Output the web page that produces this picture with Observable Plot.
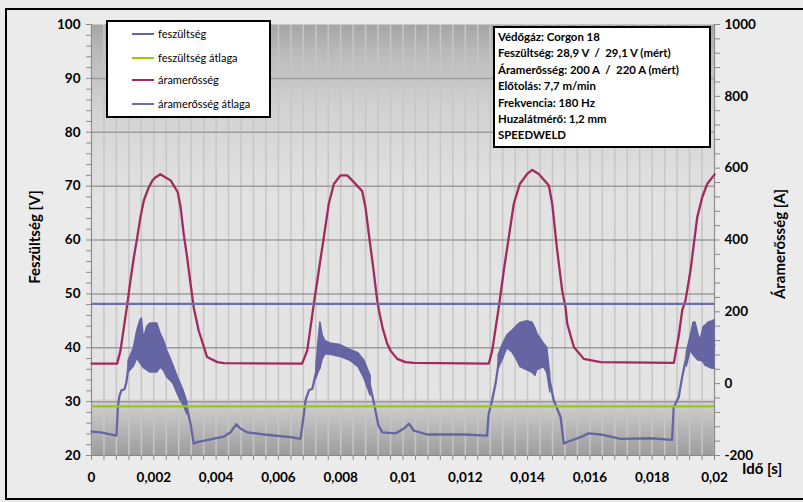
<!DOCTYPE html>
<html><head><meta charset="utf-8">
<script src="https://cdn.jsdelivr.net/npm/d3@7"></script>
<script src="https://cdn.jsdelivr.net/npm/@observablehq/plot@0.6"></script>
<style>
body{margin:0;background:#fff;}
#wrap{position:relative;width:803px;height:502px;background:#ebebeb;overflow:hidden;font-family:Lato,"Open Sans",sans-serif;}
#border{position:absolute;left:5px;top:8px;width:810px;height:492px;border:2px solid #000;box-sizing:border-box;pointer-events:none;}
#legend{position:absolute;left:106px;top:20px;width:165px;height:98px;background:#fff;border:2px solid #000;box-sizing:border-box;font-size:11px;color:#000;}
#legend .row{position:absolute;left:24px;height:14px;line-height:14px;white-space:nowrap;}
#legend .sw{display:inline-block;width:22px;height:0;border-top:2.5px solid;vertical-align:middle;margin-right:4px;position:relative;top:-1px;}
#info{position:absolute;left:493px;top:26px;width:218px;height:122px;background:#fff;border:2px solid #000;box-sizing:border-box;font-size:11.4px;font-weight:bold;color:#000;padding:1px 0 0 3px;line-height:16.4px;white-space:nowrap;}
</style></head>
<body>
<div id="wrap"></div>
<script>
// ---- data ----
const voltTime = [0,0.00029,0.00061,0.00080,0.00085,0.00090,0.00096,0.00106,0.00112,0.00119,0.00135,0.00157,0.00189,0.00222,0.00247,0.00270,0.00289,0.00307,0.00318,0.00328,0.00339,0.00382,0.00425,0.00446,0.00465,0.00478,0.00500,0.00553,0.00639,0.00671,0.00677,0.00687,0.00698,0.00709,0.00722,0.00732,0.00751,0.00783,0.00815,0.00848,0.00870,0.00889,0.00905,0.00921,0.00934,0.00976,0.01003,0.01019,0.01035,0.01078,0.01195,0.01270,0.01275,0.01286,0.01297,0.01308,0.01318,0.01334,0.01361,0.01393,0.01425,0.01451,0.01473,0.01484,0.01506,0.01516,0.01527,0.01570,0.01596,0.01634,0.01698,0.01795,0.01864,0.01869,0.01885,0.01896,0.01907,0.01923,0.01939,0.01955,0.01971,0.02];
const voltage = [24.45,24.3,23.9,23.7,29.3,31.1,32.1,32.3,33.6,36.7,38.6,41.0,39.9,39.1,36.7,34.3,31.7,28.7,25.9,22.2,22.5,23.0,23.5,24.3,25.8,25.0,24.3,23.9,23.4,23.1,25.6,30.2,32.1,32.4,35.8,40.4,40.4,39.9,39.1,38.4,36.7,34.3,30.2,25.6,24.3,24.1,25.0,25.9,24.6,23.9,23.9,23.7,27.7,30.2,33.3,37.6,39.5,41.4,40.8,40.4,39.9,38.6,33.3,30.2,27.1,22.2,22.5,23.4,24.1,23.9,23.1,23.2,22.9,29.0,30.8,34.5,37.6,41.4,41.4,39.5,40.4,40.4];

// noisy voltage envelope (arc bursts)
const noiseTime = [0.00119,0.00136,0.00147,0.00157,0.00162,0.00168,0.00179,0.00189,0.00211,0.00222,0.00232,0.00243,0.00254,0.00264,0.00279,0.00295,0.00308,
  0.00722,0.00729,0.00735,0.00742,0.00751,0.00767,0.00799,0.00831,0.00857,0.00876,0.00896,
  0.01307,0.01319,0.01335,0.01352,0.01367,0.01377,0.01399,0.01415,0.01425,0.01431,0.01452,0.01463,0.01473,
  0.01911,0.01924,0.01933,0.01939,0.01949,0.01955,0.01965,0.01971,0.01981,0.01993,0.02];
const noiseHigh = [37.6,39.9,43.2,45.1,45.4,41.7,43.9,44.5,44.5,42.6,41.4,39.5,38.0,36.5,34.3,32.1,29.8,
  36.7,41.3,44.7,42.3,41.2,40.8,40.5,39.6,39.0,37.6,34.8,
  38.6,40.4,42.3,43.2,44.1,44.6,44.9,44.7,43.6,42.6,40.8,40.0,34.8,
  39.1,42.3,44.7,44.7,42.3,41.3,43.8,44.1,44.7,44.9,45.1];
const noiseLow = [35.4,36.5,38.0,37.1,36.7,36.2,35.8,35.4,35.4,36.3,35.8,34.5,33.9,33.2,31.1,29.3,27.6,
  34.3,35.4,36.1,37.8,38.8,38.7,38.3,37.6,36.4,34.3,31.1,
  36.1,37.6,39.9,39.1,37.6,36.4,35.8,35.4,34.8,35.8,36.4,35.4,31.7,
  36.5,39.5,38.6,38.2,37.6,37.6,37.3,36.7,36.4,36.1,36.1];
const noiseBurst = [1,1,1,1,1,1,1,1,1,1,1,1,1,1,1,1,1, 2,2,2,2,2,2,2,2,2,2,2, 3,3,3,3,3,3,3,3,3,3,3,3,3, 4,4,4,4,4,4,4,4,4,4,4];

const currTime = [0,0.000825,0.00093,0.00115,0.00125,0.00136,0.00147,0.00157,0.00168,0.00184,0.00196,0.00205,0.00221,0.00238,0.00254,0.00277,0.00286,0.00296,0.00307,0.00318,0.00328,0.00344,0.00361,0.00371,0.00404,0.00425,0.00676,
  0.006925,0.007137,0.007297,0.007458,0.007618,0.007779,0.007993,0.008209,0.008421,0.00869,0.008796,0.008902,0.009043,0.009172,0.00923,0.009342,0.009493,0.0096,0.009814,0.01008,0.010347,0.012755,
  0.012864,0.013075,0.013236,0.013397,0.013557,0.01375,0.013987,0.014148,0.01436,0.014681,0.01479,0.01495,0.015111,0.015217,0.015272,0.015484,0.015804,0.016341,0.018694,
  0.018854,0.018963,0.019069,0.019229,0.019445,0.019605,0.019766,0.019978,0.02];
const current = [56,56,92,222,287,352,408,463,510,547,566,574,583,574,566,533,491,417,352,278,213,148,102,74,60,57,56,
  92,222,315,408,501,556,580,580,561,536,491,417,324,232,203,156,111,92,69,60,58,56,
  92,213,315,408,501,556,584,595,584,552,501,371,259,213,167,102,69,60,58,
  134,204,232,315,463,519,556,580,583];

const voltageAvg = 29.1;   // V
const currentAvg = 222;    // A

const xLabels = [0,0.002,0.004,0.006,0.008,0.01,0.012,0.014,0.016,0.018,0.02];
const leftLabels = [20,30,40,50,60,70,80,90,100];
const rightLabels = [-200,0,200,400,600,800,1000];
const seriesNames = ["feszültség","feszültség átlaga","áramerősség","áramerősség átlaga"];
const infoLines = ["Védőgáz: Corgon 18","Feszültség: 28,9 V  /  29,1 V (mért)","Áramerősség: 200 A  /  220 A (mért)","Előtolás: 7,7 m/min","Frekvencia: 180 Hz","Huzalátmérő: 1,2 mm","SPEEDWELD"];

// ---- build ----
const cVolt = "#6565a3", cVAvg = "#9acb00", cCurr = "#a12a5e", cCAvg = "#6e6eae";
const seriesColors = [cVolt, cVAvg, cCurr, cCAvg];
const toV = a => 20 + (a + 200) / 15;   // secondary axis (A) -> primary (V)
const toA = v => (v - 20) * 15 - 200;

const voltData = voltTime.map((t, i) => ({t, v: voltage[i]}));
const noiseData = noiseTime.map((t, i) => ({t, lo: noiseLow[i], hi: noiseHigh[i], s: noiseBurst[i]}));
const currData = currTime.map((t, i) => ({t, v: toV(current[i])}));

const xMinor = d3.range(0, 51).map(i => i * 0.0004);
const yMinor = d3.range(20, 101, 2);
const rMinor = d3.range(-200, 1001, 40).map(toV);
const fmtX = d => d === 0 ? "0" : String(+d.toFixed(3)).replace(".", ",");

const plot = Plot.plot({
  width: 803, height: 502,
  marginLeft: 91, marginRight: 89, marginTop: 24, marginBottom: 47,
  x: {domain: [0, 0.02]},
  y: {domain: [20, 100]},
  style: {background: "transparent", fontFamily: "Lato, sans-serif", fontSize: "13px", fontWeight: "bold", color: "#000", overflow: "visible"},
  marks: [
    Plot.frame({fill: "url(#plotbg)", stroke: null}),
    Plot.ruleX(xMinor, {stroke: "#c6c6c6", strokeWidth: 1.5}),
    Plot.ruleY(leftLabels.filter(d => d > 20 && d < 100), {stroke: "#9c9c9c", strokeWidth: 1.5}),
    Plot.ruleX([0, 0.02], {stroke: "#8a8a8a", strokeWidth: 1}),
    Plot.ruleY([20], {stroke: "#8a8a8a", strokeWidth: 1}),
    Plot.axisX(xMinor, {tickSize: 5, stroke: "#8a8a8a", tickFormat: () => "", label: null}),
    Plot.axisX(xLabels, {tickSize: 0, tickPadding: 17, tickFormat: fmtX, label: null, fontSize: 13.5, fontWeight: "bold"}),
    Plot.axisY(yMinor, {tickSize: 5, stroke: "#8a8a8a", tickFormat: () => "", label: null}),
    Plot.axisY(leftLabels, {tickSize: 0, tickPadding: 11, label: null, fontSize: 13.5, fontWeight: "bold"}),
    Plot.axisY(rMinor, {anchor: "right", tickSize: 5, stroke: "#8a8a8a", tickFormat: () => "", label: null}),
    Plot.axisY(rightLabels.map(toV), {anchor: "right", tickSize: 0, tickPadding: 10, tickFormat: v => String(Math.round(toA(v))), label: null, fontSize: 13.5, fontWeight: "bold"}),
    Plot.areaY(noiseData, {x: "t", y1: "lo", y2: "hi", z: "s", fill: cVolt, stroke: cVolt, strokeWidth: 1.5}),
    Plot.line(voltData, {x: "t", y: "v", stroke: cVolt, strokeWidth: 2.3}),
    Plot.ruleY([voltageAvg], {stroke: cVAvg, strokeWidth: 2.3}),
    Plot.line(currData, {x: "t", y: "v", stroke: cCurr, strokeWidth: 2.3, curve: "linear"}),
    Plot.ruleY([toV(currentAvg)], {stroke: cCAvg, strokeWidth: 2.3})
  ]
});

// gradient background of plot area
const svg = d3.select(plot);
const defs = svg.insert("defs", ":first-child");
const grad = defs.append("linearGradient").attr("id", "plotbg").attr("x1", 0).attr("y1", 0).attr("x2", 0).attr("y2", 1);
[[0, "#a4a4a4"], [0.06, "#b9b9b9"], [0.2, "#d3d3d3"], [0.4, "#e2e2e2"], [0.868, "#e4e4e4"], [0.872, "#d2d2d2"], [1, "#9c9c9c"]]
  .forEach(([o, c]) => grad.append("stop").attr("offset", o).attr("stop-color", c));

// axis titles
svg.append("text").attr("transform", "translate(40,237) rotate(-90)").attr("text-anchor", "middle")
  .attr("font-size", 15).attr("font-weight", "bold").text("Feszültség [V]");
svg.append("text").attr("transform", "translate(785,244) rotate(-90)").attr("text-anchor", "middle")
  .attr("font-size", 15).attr("font-weight", "bold").text("Áramerősség [A]");
svg.append("text").attr("x", 742).attr("y", 474).attr("text-anchor", "start")
  .attr("font-size", 15).attr("font-weight", "bold").text("Idő [s]");

const wrap = document.getElementById("wrap");
wrap.appendChild(plot);
plot.style.position = "absolute"; plot.style.left = "0"; plot.style.top = "0";

const legend = document.createElement("div");
legend.id = "legend";
const rowTops = [5, 29, 51, 75];
seriesNames.forEach((n, i) => {
  const r = document.createElement("div");
  r.className = "row"; r.style.top = rowTops[i] + "px";
  const sw = document.createElement("span"); sw.className = "sw"; sw.style.borderColor = seriesColors[i];
  r.appendChild(sw); r.appendChild(document.createTextNode(n));
  legend.appendChild(r);
});
wrap.appendChild(legend);

const info = document.createElement("div");
info.id = "info";
info.innerHTML = infoLines.map(l => l.replace(/  /g, "&nbsp; ")).join("<br>");
wrap.appendChild(info);

const border = document.createElement("div"); border.id = "border"; wrap.appendChild(border);
</script>
</body></html>
